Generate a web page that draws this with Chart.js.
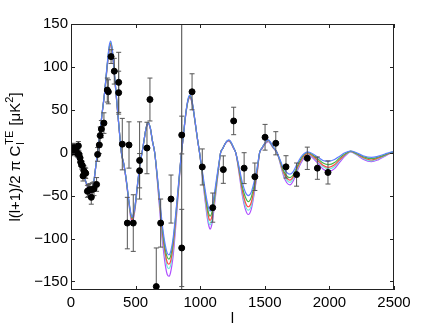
<!DOCTYPE html>
<html>
<head>
<meta charset="utf-8">
<script src="https://cdn.jsdelivr.net/npm/chart.js@4.4.0/dist/chart.umd.min.js"></script>
<style>
  html, body { margin: 0; padding: 0; background: #fff; }
  #wrap { width: 436px; height: 328px; }
</style>
</head>
<body>
<div id="wrap"><canvas id="teChart" width="436" height="328"></canvas></div>
<script>
// multipoles where the model curves are sampled
const ell = [2,10,25,50,75,100,125,150,175,190,
  205,220,240,260,280,295,307,320,340,360,
  375,390,410,430,450,465,472,480,495,515,
  535,550,565,580,598,615,630,648,670,690,
  710,730,745,758,770,790,810,830,845,855,
  870,885,900,910,921,935,950,965,980,995,
  1015,1035,1055,1068,1076,1088,1105,1125,1145,1158,
  1175,1195,1210,1223,1240,1258,1275,1300,1325,1350,
  1372,1395,1420,1440,1460,1480,1500,1515,1528,1545,
  1565,1595,1620,1645,1670,1695,1720,1750,1780,1805,
  1830,1855,1880,1910,1950,1995,2040,2080,2120,2165,
  2210,2260,2325,2380,2430,2470,2500];

// model TE spectra (one per colour)
const modelBlue = [0,1,0,-6,-15,-27,-38,-45,-35,-18,
  0,18,45,70,103,124,130,120,86,50,
  24,0,-14,-34,-58,-72,-75,-73,-62,-36,
  -12,0,14,28,35,28,14,0,-30,-60,
  -88,-108,-117,-119,-116,-100,-72,-40,-15,0,
  20,42,58,65,67,62,48,32,15,0,
  -20,-40,-58,-66,-68,-65,-52,-32,-12,0,
  5,11,14,15,12,6,0,-16,-34,-46,
  -50,-46,-32,-18,0,6,11,14,15,12,
  7,0,-9,-18,-23,-25,-22,-13,-5,-1,
  1,0,-2,-5,-9,-10,-8,-4,0,2,
  0,-3.5,-5.5,-4,-1.5,0.5,1];
const modelGreen = [0,1,0,-6,-15,-27,-38,-45,-35,-18,
  0,18,45,70,102,122,128,119,85,50,
  24,0,-14,-34,-59,-73,-76,-74,-63,-37,
  -12,0,14,28,35,28,14,0,-31,-63,
  -92,-113,-122,-124,-121,-104,-75,-42,-16,0,
  20,42,57,64,66,61,47,31,15,0,
  -22,-44,-63,-72,-74,-71,-57,-35,-13,0,
  5,11,14,14.5,11.5,6,0,-18,-39,-52,
  -57,-52,-36,-20,0,6,11,13.5,14.5,11.5,
  6.5,0,-10,-21,-27,-29,-26,-16,-7,-2,
  0.5,-1,-3.5,-7,-12,-14,-11.5,-6,-1.5,1.8,
  -1,-4.5,-7,-5,-2.5,0,0.8];
const modelRed = [0,1,0,-6,-15,-27,-38,-46,-36,-18,
  0,18,45,70,101,120,126,118,84,49,
  24,0,-14,-35,-60,-75,-78,-76,-64,-37,
  -12,0,14,28,34.5,28,14,0,-33,-66,
  -96,-118,-128,-130,-127,-109,-79,-44,-16,0,
  20,41,57,63,65,60,47,31,15,0,
  -23,-46,-67,-77,-79,-76,-60,-37,-14,0,
  5,11,13.5,14,11,5.5,0,-20,-43,-58,
  -63,-58,-40,-23,0,5.5,10.5,13,14,11,
  6,0,-11,-23,-29.5,-32,-28,-18,-9,-3.5,
  -1,-2,-5,-9,-14.5,-17,-14,-8,-2.5,1.5,
  -1.5,-5.5,-8.5,-6,-3,-0.5,0.7];
const modelCyan = [0,1,0,-6,-15,-27,-38,-46,-36,-18,
  0,18,45,70,100,119,125,117,84,49,
  24,0,-14,-35,-61,-76,-79,-77,-65,-38,
  -12,0,14,28,34.5,28,14,0,-34,-68,
  -100,-122,-133,-135,-132,-113,-82,-45,-17,0,
  20,41,56,63,64.5,60,47,31,15,0,
  -25,-49,-72,-82,-84,-80,-64,-40,-15,0,
  5,11,13.5,14,11,5.5,0,-21,-46,-62,
  -67,-62,-43,-24,0,5.5,10.5,12.5,13.5,10.5,
  6,0,-12,-25,-32,-34.5,-30,-20,-10,-4.5,
  -2,-3,-6,-10,-16,-19,-16,-9,-3,1.3,
  -2,-6.5,-9.5,-7,-3.5,-0.5,0.6];
const modelPurple = [0,1,0,-6,-15,-27,-39,-47,-37,-19,
  0,18,44,69,99,118,124,116,83,49,
  23,0,-15,-36,-62,-78,-81,-79,-67,-39,
  -13,0,14,27,34,27,13,0,-36,-73,
  -106,-131,-142,-144,-140,-121,-87,-48,-18,0,
  19,40,56,62,64,59,46,30,14,0,
  -26,-52,-76,-86,-89,-85,-68,-42,-16,0,
  5,10.5,13,13.5,10.5,5,0,-23,-49,-66,
  -72,-66,-46,-26,0,5,10,12,13,10,
  5.5,0,-13,-27,-35,-37.5,-33,-22,-12,-6,
  -3,-4,-7.5,-12,-19,-22,-18.5,-11,-4,1,
  -2.5,-7.5,-10.5,-8,-4,-1,0.5];

// measured band powers with 1-sigma errors
const obsL = [2,8,13,18,25,32,38,45,50,57,62,70,75,82,88,93,100,108,114,127,135,147,157,165,178,198,
  206,219,226,235,255,281,289,310,335,369,369,397,436,449,482,531,531,588,611,660,694,774,857,857,
  937,1016,1097,1179,1259,1340,1423,1502,1585,1664,1746,1829,1907,1989];
const obsV = [0.5,3,5.5,2,6,3,4,0,-1,8,-2,-6,-11,-14,-15,-27,-21,-23,-24,-45,-44,-43,-52,-43,-42,-37,
  -2,9,20,27.5,34.5,73,71,112,95,82,70,10,-82,9,-82,-9,-21,5.5,62,-156,-82,-54,20.6,-111,
  71,-16.6,-64,-19.7,37,-18,-28,18,11,-16.5,-25.5,-6.5,-18,-23];
const obsErr = [4,5,5,4,5,4,4,4,4,5,4,5,5,5,5,6,6,6,6,7,7,7,8,8,8,8,
  8,10,10,10,12,14,14,8,15,35,25,30,30,27,33,45,20,30,25,45,28,28,22,45,
  21,21,17,16,16,18,16,15,13.5,13,13.5,13,13,13.5];

const xTicks = [0, 500, 1000, 1500, 2000, 2500];
const yTicks = [-150, -100, -50, 0, 50, 100, 150];
const markerL = 857;

const FONT = 'Liberation Sans, Arial, Helvetica, sans-serif';

function curve(vals, color) {
    return {
        type: 'line',
        label: 'model',
        data: ell.map((l, i) => ({ x: l, y: vals[i] })),
        borderColor: color,
        borderWidth: 1.2,
        pointRadius: 0,
        fill: false,
        cubicInterpolationMode: 'monotone'
    };
}

// error bars, frame, inward ticks and the y label
const framePlugin = {
    id: 'frame',
    beforeDatasetDraw(chart, args) {
        if (chart.data.datasets[args.index].label !== 'data') return;
        const ctx = chart.ctx, xs = chart.scales.x, ys = chart.scales.y, ca = chart.chartArea;
        ctx.save();
        ctx.beginPath();
        ctx.rect(ca.left, ca.top, ca.right - ca.left, ca.bottom - ca.top);
        ctx.clip();
        ctx.strokeStyle = '#555';
        ctx.lineWidth = 1;
        obsL.forEach((l, i) => {
            const x = xs.getPixelForValue(l);
            const y1 = ys.getPixelForValue(obsV[i] + obsErr[i]);
            const y2 = ys.getPixelForValue(obsV[i] - obsErr[i]);
            ctx.beginPath();
            ctx.moveTo(x, y1); ctx.lineTo(x, y2);
            ctx.moveTo(x - 2.5, y1); ctx.lineTo(x + 2.5, y1);
            ctx.moveTo(x - 2.5, y2); ctx.lineTo(x + 2.5, y2);
            ctx.stroke();
        });
        ctx.restore();
    },
    afterDraw(chart) {
        const ctx = chart.ctx, xs = chart.scales.x, ys = chart.scales.y, ca = chart.chartArea;
        ctx.save();
        ctx.strokeStyle = '#222';
        ctx.lineWidth = 1;
        ctx.strokeRect(Math.round(ca.left) + 0.5, Math.round(ca.top) + 0.5,
            Math.round(ca.right - ca.left) - 1, Math.round(ca.bottom - ca.top) - 1);
        ctx.beginPath();
        xTicks.forEach(v => {
            const x = Math.round(xs.getPixelForValue(v)) + 0.5;
            ctx.moveTo(x, ca.bottom); ctx.lineTo(x, ca.bottom - 4);
            ctx.moveTo(x, ca.top); ctx.lineTo(x, ca.top + 4);
        });
        yTicks.forEach(v => {
            const y = Math.round(ys.getPixelForValue(v)) + 0.5;
            ctx.moveTo(ca.left, y); ctx.lineTo(ca.left + 4, y);
            ctx.moveTo(ca.right, y); ctx.lineTo(ca.right - 4, y);
        });
        ctx.stroke();

        // y label: l(l+1)/2 pi C_l^TE [muK^2]
        const big = '15px ' + FONT, small = '11px ' + FONT;
        const parts1 = 'l(l+1)/2 \u03c0 C', parts2 = ' [\u03bcK', parts3 = ']';
        ctx.font = big;
        const w1 = ctx.measureText(parts1).width;
        const w2 = ctx.measureText(parts2).width;
        const w3 = ctx.measureText(parts3).width;
        ctx.font = small;
        const wSub = Math.max(ctx.measureText('l').width, ctx.measureText('TE').width) + 2;
        const wSq = ctx.measureText('2').width;
        const total = w1 + wSub + w2 + wSq + w3;
        ctx.translate(16, (ca.top + ca.bottom) / 2);
        ctx.rotate(-Math.PI / 2);
        ctx.fillStyle = '#000';
        ctx.textBaseline = 'middle';
        let x = -total / 2;
        ctx.font = big; ctx.fillText(parts1, x, 0); x += w1 + 1;
        ctx.font = small;
        ctx.fillText('l', x, 5);
        ctx.fillText('TE', x, -6);
        x += wSub - 1;
        ctx.font = big; ctx.fillText(parts2, x, 0); x += w2;
        ctx.font = small; ctx.fillText('2', x, -6); x += wSq;
        ctx.font = big; ctx.fillText(parts3, x, 0);
        ctx.restore();
    }
};

// plain numbers, MATLAB style minus
function tickText(v) {
    return v < 0 ? '\u2212' + Math.abs(v) : String(v);
}

const ctx = document.getElementById('teChart').getContext('2d');
new Chart(ctx, {
    data: {
        datasets: [
            {
                type: 'scatter',
                label: 'data',
                data: obsL.map((l, i) => ({ x: l, y: obsV[i] })),
                backgroundColor: '#000',
                borderColor: '#000',
                pointRadius: 3,
                pointHoverRadius: 3
            },
            {
                type: 'line',
                label: 'marker',
                data: [{ x: markerL, y: -160 }, { x: markerL, y: 150 }],
                borderColor: '#444',
                borderWidth: 1,
                pointRadius: 0
            },
            curve(modelBlue, 'rgb(95,125,255)'),
            curve(modelGreen, 'rgb(70,180,70)'),
            curve(modelRed, 'rgb(255,70,70)'),
            curve(modelCyan, 'rgb(110,235,220)'),
            curve(modelPurple, 'rgb(175,80,255)')
        ]
    },
    options: {
        responsive: false,
        animation: false,
        devicePixelRatio: 1,
        layout: { padding: { left: 0, top: 24, right: 42, bottom: 0 } },
        plugins: { legend: { display: false }, tooltip: { enabled: false } },
        scales: {
            x: {
                type: 'linear',
                min: 0,
                max: 2500,
                afterBuildTicks: s => { s.ticks = xTicks.map(v => ({ value: v })); },
                afterFit: s => { s.height = 38; },
                grid: { display: false, drawTicks: false },
                border: { display: false },
                ticks: { color: '#000', font: { family: FONT, size: 15 }, padding: 4, maxRotation: 0, callback: tickText },
                title: { display: true, text: 'l', color: '#000', font: { family: FONT, size: 15 }, padding: { top: 0, bottom: 0 } }
            },
            y: {
                type: 'linear',
                min: -160,
                max: 150,
                afterBuildTicks: s => { s.ticks = yTicks.map(v => ({ value: v })); },
                afterFit: s => { s.width = 71; },
                grid: { display: false, drawTicks: false },
                border: { display: false },
                ticks: { color: '#000', font: { family: FONT, size: 15 }, padding: 3, callback: tickText }
            }
        }
    },
    plugins: [framePlugin]
});
</script>
</body>
</html>
